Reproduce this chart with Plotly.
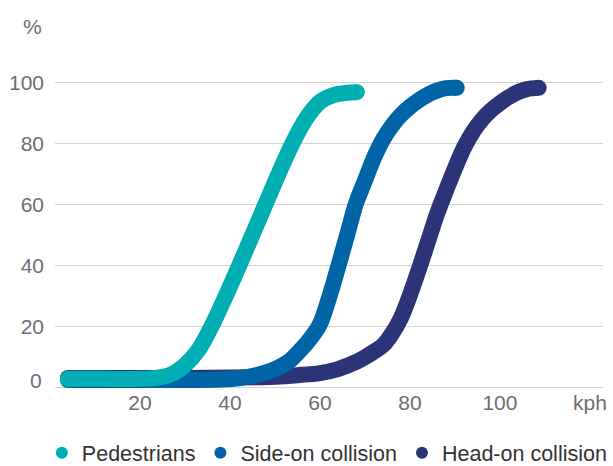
import plotly.graph_objects as go

# ---- data ----
ped_x = [4, 12, 20, 24, 27, 30, 33, 36, 39, 42, 45, 48, 51, 54, 57, 60, 63, 66, 68.2]
ped_y = [3, 3, 3, 3.4, 4.5, 7.5, 12.5, 20.5, 30, 40, 50.3, 60.6, 70.9, 80.5, 88.5, 93.8, 96, 96.8, 97]

side_x = [4, 20, 30, 38, 42, 46, 50, 53, 56, 58, 60, 62, 64, 66, 68, 70, 72, 74, 76, 78, 80, 82, 84, 86, 88, 90.4]
side_y = [2.6, 2.6, 2.6, 2.8, 3.2, 4.3, 6.2, 8.6, 13, 16.5, 21, 29.5, 39.5, 50, 60.5, 68, 75.5, 81.5, 86, 89.5, 92.2, 94.4, 96.2, 97.5, 98.3, 98.4]

head_x = [4, 30, 45, 50, 55, 60, 64, 68, 71, 74, 76, 78, 80, 82, 84, 86, 88, 90, 92, 94, 96, 98, 100, 102, 104, 106, 108.6]
head_y = [3.3, 3.3, 3.5, 3.7, 4.2, 4.9, 6.2, 8.5, 11, 14, 17.8, 23, 30.5, 39, 48, 57, 64.7, 72, 78.8, 84, 88, 91, 93.4, 95.4, 97, 98, 98.4]

series_names = ["Pedestrians", "Side-on collision", "Head-on collision"]
colors = ["#00AEB3", "#0065A6", "#2C3478"]

x_tickvals = [20, 40, 60, 80, 100, 120]
x_ticktext = ["20", "40", "60", "80", "100", "kph"]
y_tickvals = [0, 20, 40, 60, 80, 100]
y_ticktext = ["", "20", "40", "60", "80", "100"]

LW = 16
TEXT = "#6D6E71"
LEGEND_TEXT = "#333333"
FONT = "Liberation Sans, Arial, sans-serif"

fig = go.Figure()

def add_curve(xs, ys, color):
    sizes = [0] * len(xs)
    sizes[0] = LW
    sizes[-1] = LW
    fig.add_trace(go.Scatter(
        x=xs, y=ys, mode="lines+markers",
        line=dict(color=color, width=LW, shape="spline", smoothing=0.9),
        marker=dict(size=sizes, color=color, opacity=1, line=dict(width=0)),
        showlegend=False, hoverinfo="skip",
    ))

# draw order: head-on under, pedestrians on top
add_curve(head_x, head_y, colors[2])
add_curve(side_x, side_y, colors[1])
add_curve(ped_x, ped_y, colors[0])

# legend entries with circle symbols
for name, c in zip(series_names, colors):
    fig.add_trace(go.Scatter(
        x=[None], y=[None], mode="markers", name=name,
        marker=dict(symbol="circle", size=15, color=c, opacity=1),
    ))

fig.add_annotation(text="%", xref="paper", yref="paper", x=-0.02, y=1.121,
                   xanchor="right", yanchor="middle", showarrow=False,
                   font=dict(size=21, color=TEXT, family=FONT))
fig.add_annotation(text="0", xref="paper", yref="y", x=-0.02, y=2.4,
                   xanchor="right", yanchor="middle", showarrow=False,
                   font=dict(size=21, color=TEXT, family=FONT))

fig.update_layout(
    width=613, height=466,
    margin=dict(l=55, r=10, t=66, b=77, autoexpand=False),
    paper_bgcolor="white", plot_bgcolor="white",
    font=dict(family=FONT, size=21, color=TEXT),
    xaxis=dict(
        range=[1.11, 122.9], tickvals=x_tickvals, ticktext=x_ticktext,
        showgrid=False, zeroline=False, showline=False, ticks="",
        ticklabelstandoff=-1, tickfont=dict(size=21, color=TEXT),
        automargin=False,
    ),
    yaxis=dict(
        range=[-0.33, 105.57], tickvals=y_tickvals, ticktext=y_ticktext,
        showgrid=True, gridcolor="#D3D3D3", gridwidth=1,
        zeroline=False, showline=False, ticks="",
        ticklabelstandoff=10, tickfont=dict(size=21, color=TEXT),
        automargin=False,
    ),
    legend=dict(
        orientation="h", x=-0.024, xanchor="left", y=-0.1973, yanchor="middle",
        font=dict(size=21.5, color=LEGEND_TEXT), itemsizing="constant",
        bgcolor="rgba(0,0,0,0)", borderwidth=0,
    ),
)

fig.write_html("out.html", config={"displayModeBar": False},
               post_script="document.body.style.margin='0px';document.body.style.overflow='hidden';")
